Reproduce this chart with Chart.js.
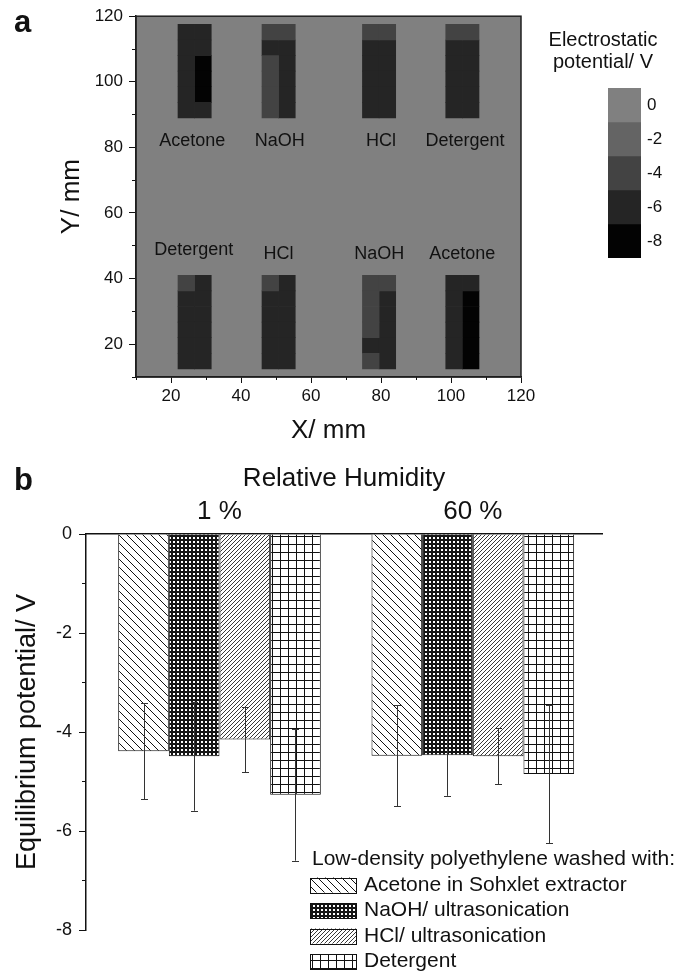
<!DOCTYPE html>
<html lang="en">
<head>
<meta charset="UTF-8">
<title>Electrostatic potential map and equilibrium potential</title>
<script src="https://cdn.jsdelivr.net/npm/chart.js"></script>
<style>
  body { margin: 0; background: #fff; }
  #page { position: relative; width: 683px; height: 975px; font-family: 'Liberation Sans', Arial, sans-serif; }
  canvas { position: absolute; }
  .tag { position: absolute; font-weight: bold; font-size: 31px; line-height: 31px; color: #111; }
</style>
</head>
<body>
<div id="page">
  <canvas id="map" width="545" height="450" style="left:0;top:0"></canvas>
  <canvas id="scale" width="160" height="275" style="left:523px;top:0"></canvas>
  <canvas id="bars" width="683" height="535" style="left:0;top:440px"></canvas>
  <div class="tag" style="left:14px;top:6px">a</div>
  <div class="tag" style="left:14px;top:464px">b</div>
</div>
<script>
Chart.defaults.font.family = "'Liberation Sans', Arial, sans-serif";
Chart.defaults.color = '#111';
Chart.defaults.animation = false;
Chart.defaults.plugins.legend.display = false;
Chart.defaults.plugins.tooltip.enabled = false;

// ---------- panel a: potential map of the sheet ----------
const levels = [0, -2, -4, -6, -8];
const levelColors = ['#808080', '#646464', '#434343', '#252525', '#030303'];
const cellSize = 4.75;                 // mm, measuring grid
const sampleLeft = [22, 46, 74.7, 98.5];
const topRowBase = 89;
const bottomRowBase = 12.5;
const topNames = ['Acetone', 'NaOH', 'HCl', 'Detergent'];
const bottomNames = ['Detergent', 'HCl', 'NaOH', 'Acetone'];
// potential per cell, rows from top to bottom, [left column, right column]
const topCells = [
  [[-6, -6], [-6, -6], [-6, -8], [-6, -8], [-6, -8], [-6, -6]],
  [[-4, -4], [-6, -6], [-4, -6], [-4, -6], [-4, -6], [-4, -6]],
  [[-4, -4], [-6, -6], [-6, -6], [-6, -6], [-6, -6], [-6, -6]],
  [[-4, -4], [-6, -6], [-6, -6], [-6, -6], [-6, -6], [-6, -6]]
];
const bottomCells = [
  [[-4, -6], [-6, -6], [-6, -6], [-6, -6], [-6, -6], [-6, -6]],
  [[-4, -6], [-6, -6], [-6, -6], [-6, -6], [-6, -6], [-6, -6]],
  [[-4, -4], [-4, -6], [-4, -6], [-4, -6], [-6, -6], [-4, -6]],
  [[-6, -6], [-6, -8], [-6, -8], [-6, -8], [-6, -8], [-6, -8]]
];
const topLabelX = [26.1, 51.1, 80, 104];
const topLabelY = [82, 82, 82, 82];
const bottomLabelX = [26.5, 50.7, 79.5, 103.2];
const bottomLabelY = [48.8, 47.6, 47.6, 47.6];
const mapTicks = [20, 40, 60, 80, 100, 120];
const mapMinorTicks = [10, 30, 50, 70, 90, 110];

function cellBars(level) {
  const pts = [];
  [[topCells, topRowBase], [bottomCells, bottomRowBase]].forEach(([row, base]) => {
    row.forEach((grid, s) => {
      grid.forEach((pair, r) => {
        pair.forEach((v, c) => {
          if (v !== level) return;
          const y0 = base + (grid.length - 1 - r) * cellSize;
          pts.push({ x: sampleLeft[s] + (c + 0.5) * cellSize, y: [y0, y0 + cellSize] });
        });
      });
    });
  });
  return pts;
}

const mapSets = levels.map((lv, i) => ({
  label: lv + ' V',
  data: cellBars(lv),
  backgroundColor: levelColors[i],
  borderWidth: 0,
  grouped: false,
  categoryPercentage: 1,
  barPercentage: 1
})).filter(d => d.data.length);

const mapDecor = {
  id: 'mapDecor',
  beforeDraw(chart) {
    const { ctx, chartArea: a } = chart;
    ctx.save();
    ctx.fillStyle = levelColors[0];
    ctx.fillRect(a.left, a.top, a.width, a.height);
    ctx.restore();
  },
  afterDatasetsDraw(chart) {
    const { ctx, scales: { x, y } } = chart;
    ctx.save();
    ctx.font = "18px 'Liberation Sans', Arial, sans-serif";
    ctx.fillStyle = '#111';
    ctx.textAlign = 'center';
    ctx.textBaseline = 'middle';
    topNames.forEach((n, i) => ctx.fillText(n, x.getPixelForValue(topLabelX[i]), y.getPixelForValue(topLabelY[i])));
    bottomNames.forEach((n, i) => ctx.fillText(n, x.getPixelForValue(bottomLabelX[i]), y.getPixelForValue(bottomLabelY[i])));
    ctx.restore();
  },
  afterDraw(chart) {
    const { ctx, chartArea: a } = chart;
    ctx.save();
    ctx.strokeStyle = '#222';
    ctx.lineWidth = 1.5;
    ctx.strokeRect(a.left, a.top, a.width, a.height);
    ctx.restore();
  }
};

new Chart(document.getElementById('map'), {
  type: 'bar',
  data: { datasets: mapSets },
  options: {
    responsive: false,
    layout: { padding: { top: 15, right: 24, bottom: 0, left: 0 } },
    scales: {
      x: {
        type: 'linear', position: 'bottom', min: 10, max: 120, offset: false,
        afterBuildTicks: a => { a.ticks = mapTicks.map(v => ({ value: v })); },
        afterFit: a => { a.height = 73; },
        ticks: { font: { size: 17 }, padding: 3.5, maxRotation: 0, autoSkip: false },
        grid: { drawOnChartArea: false, offset: false, tickLength: 6, color: '#111' },
        border: { color: '#111', width: 1.5 },
        title: { display: true, text: 'X/ mm', font: { size: 26 }, padding: { top: 0, bottom: 4 } }
      },
      xMinor: {
        axis: 'x', type: 'linear', position: 'bottom', weight: -1, min: 10, max: 120, offset: false,
        afterBuildTicks: a => { a.ticks = mapMinorTicks.map(v => ({ value: v })); },
        afterFit: a => { a.height = 0; },
        ticks: { display: false },
        grid: { drawOnChartArea: false, offset: false, tickLength: 3, color: '#111' },
        border: { display: false }
      },
      y: {
        type: 'linear', position: 'left', min: 10, max: 120,
        afterBuildTicks: a => { a.ticks = mapTicks.map(v => ({ value: v })); },
        afterFit: a => { a.width = 136; },
        ticks: { font: { size: 17 }, padding: 6 },
        grid: { drawOnChartArea: false, tickLength: 7, color: '#111' },
        border: { color: '#111', width: 1.5 },
        title: { display: true, text: 'Y/ mm', font: { size: 26 }, padding: { top: 56, bottom: 0 } }
      },
      yMinor: {
        axis: 'y', type: 'linear', position: 'left', weight: -1, min: 10, max: 120,
        afterBuildTicks: a => { a.ticks = mapMinorTicks.map(v => ({ value: v })); },
        afterFit: a => { a.width = 0; },
        ticks: { display: false },
        grid: { drawOnChartArea: false, tickLength: 4, color: '#111' },
        border: { display: false }
      }
    }
  },
  plugins: [mapDecor]
});

// colour scale of panel a
new Chart(document.getElementById('scale'), {
  type: 'bar',
  data: {
    labels: [''],
    datasets: levels.map((lv, i) => ({
      data: [[lv - 1, lv + 1]],
      backgroundColor: levelColors[i],
      borderWidth: 0,
      grouped: false,
      categoryPercentage: 1,
      barPercentage: 1,
      yAxisID: 'y'
    }))
  },
  options: {
    responsive: false,
    layout: { padding: { top: 0, right: 0, bottom: 17, left: 0 } },
    plugins: {
      title: {
        display: true, text: ['Electrostatic', 'potential/ V'], color: '#111',
        font: { size: 20, weight: 'normal', lineHeight: 1.1 }, padding: { top: 29, bottom: 15 }
      }
    },
    scales: {
      x: { display: false },
      y: {
        position: 'right', min: -9, max: 1,
        afterBuildTicks: a => { a.ticks = levels.map(v => ({ value: v })); },
        afterFit: a => { a.width = 42; },
        ticks: { font: { size: 17 }, padding: 6 },
        grid: { display: false, drawTicks: false },
        border: { display: false }
      },
      pad: {
        axis: 'y', position: 'left',
        afterFit: a => { a.width = 85; },
        ticks: { display: false },
        grid: { display: false, drawTicks: false },
        border: { display: false }
      }
    }
  }
});

// ---------- panel b: equilibrium potential ----------
const groupLabels = ['1 %', '60 %'];
const seriesNames = ['Acetone in Sohxlet extractor', 'NaOH/ ultrasonication', 'HCl/ ultrasonication', 'Detergent'];
const acetoneMean = [-4.39, -4.48];
const naohMean = [-4.49, -4.47];
const hclMean = [-4.15, -4.49];
const detergentMean = [-5.27, -4.85];
const acetoneErr = [0.97, 1.02];
const naohErr = [1.10, 0.82];
const hclErr = [0.66, 0.57];
const detergentErr = [1.33, 1.40];
const potentialTicks = [0, -2, -4, -6, -8];
const potentialMinor = [-1, -3, -5, -7];
const legendTitle = 'Low-density polyethylene washed with:';

function makePattern(size, paint) {
  const c = document.createElement('canvas');
  c.width = c.height = size;
  const g = c.getContext('2d');
  g.fillStyle = '#fff';
  g.fillRect(0, 0, size, size);
  paint(g, size);
  return g.createPattern(c, 'repeat');
}
function lines(g, segs) {
  g.beginPath();
  segs.forEach(s => { g.moveTo(s[0], s[1]); g.lineTo(s[2], s[3]); });
  g.stroke();
}
const backHatch = makePattern(8, (g, n) => {
  g.strokeStyle = '#111'; g.lineWidth = 1;
  lines(g, [[-2, -2, n + 2, n + 2], [-2, n - 2, 2, n + 2], [n - 2, -2, n + 2, 2]]);
});
const dotMesh = makePattern(4, (g) => {
  g.fillStyle = '#151515'; g.fillRect(0, 0, 4, 4);
  g.fillStyle = '#fff'; g.fillRect(1, 1, 2, 2);
});
const fineHatch = makePattern(4, (g, n) => {
  g.strokeStyle = '#222'; g.lineWidth = 0.9;
  lines(g, [[-1, n + 1, n + 1, -1], [-1, 1, 1, -1], [n - 1, n + 1, n + 1, n - 1]]);
});
const squareGrid = makePattern(8, (g, n) => {
  g.strokeStyle = '#111'; g.lineWidth = 1;
  lines(g, [[0.5, 0, 0.5, n], [0, 0.5, n, 0.5]]);
});

const means = [acetoneMean, naohMean, hclMean, detergentMean];
const errs = [acetoneErr, naohErr, hclErr, detergentErr];
const fills = [backHatch, dotMesh, fineHatch, squareGrid];

const errorBars = {
  id: 'errorBars',
  afterDatasetsDraw(chart) {
    const { ctx } = chart;
    const y = chart.scales.y;
    ctx.save();
    ctx.strokeStyle = '#333';
    ctx.lineWidth = 1;
    chart.data.datasets.forEach((ds, i) => {
      chart.getDatasetMeta(i).data.forEach((bar, j) => {
        const v = ds.data[j].y, e = errs[i][j];
        const hi = y.getPixelForValue(v + e), lo = y.getPixelForValue(v - e);
        const x = Math.round(bar.x) + 0.5;
        ctx.beginPath();
        ctx.moveTo(x, hi); ctx.lineTo(x, lo);
        ctx.moveTo(x - 3.5, Math.round(hi) + 0.5); ctx.lineTo(x + 3.5, Math.round(hi) + 0.5);
        ctx.moveTo(x - 3.5, Math.round(lo) + 0.5); ctx.lineTo(x + 3.5, Math.round(lo) + 0.5);
        ctx.stroke();
      });
    });
    ctx.restore();
  }
};

const washLegend = {
  id: 'washLegend',
  afterDraw(chart) {
    const { ctx } = chart;
    ctx.save();
    ctx.font = "21px 'Liberation Sans', Arial, sans-serif";
    ctx.textBaseline = 'middle';
    ctx.fillStyle = '#111';
    ctx.fillText(legendTitle, 312, 419);
    chart.data.datasets.forEach((ds, i) => {
      const yc = 445 + i * 25.5;
      ctx.fillStyle = ds.backgroundColor;
      ctx.fillRect(310, yc - 7.5, 46, 15);
      ctx.strokeStyle = '#111';
      ctx.lineWidth = 1;
      ctx.strokeRect(310.5, Math.round(yc - 7.5) + 0.5, 46, 15);
      ctx.fillStyle = '#111';
      ctx.fillText(ds.label, 364, yc);
    });
    ctx.restore();
  }
};

new Chart(document.getElementById('bars'), {
  type: 'bar',
  data: {
    datasets: seriesNames.map((name, i) => ({
      label: name,
      data: means[i].map((v, j) => ({ x: j, y: v })),
      backgroundColor: fills[i],
      borderColor: '#111',
      borderWidth: 1,
      categoryPercentage: 0.8,
      barPercentage: 1
    }))
  },
  options: {
    responsive: false,
    layout: { padding: { top: 0, right: 81, bottom: 45, left: 0 } },
    scales: {
      x: {
        type: 'linear', position: 'top', min: -0.527, max: 1.51, offset: false,
        afterBuildTicks: a => { a.ticks = groupLabels.map((g, i) => ({ value: i })); },
        afterFit: a => { a.height = 94; },
        ticks: { font: { size: 26 }, padding: 7, callback: v => groupLabels[v] },
        grid: { display: false, drawTicks: false, offset: false },
        border: { color: '#111', width: 1.5 },
        title: { display: true, text: 'Relative Humidity', font: { size: 26 }, padding: { top: 23, bottom: 0 } }
      },
      y: {
        type: 'linear', position: 'left', min: -8, max: 0,
        afterBuildTicks: a => { a.ticks = potentialTicks.map(v => ({ value: v })); },
        afterFit: a => { a.width = 86; },
        ticks: { font: { size: 18 }, padding: 7 },
        grid: { drawOnChartArea: false, tickLength: 7, color: '#111' },
        border: { color: '#111', width: 1.5 },
        title: { display: true, text: 'Equilibrium potential/ V', font: { size: 27 }, padding: { top: 11, bottom: 0 } }
      },
      yMinor: {
        axis: 'y', type: 'linear', position: 'left', weight: -1, min: -8, max: 0,
        afterBuildTicks: a => { a.ticks = potentialMinor.map(v => ({ value: v })); },
        afterFit: a => { a.width = 0; },
        ticks: { display: false },
        grid: { drawOnChartArea: false, tickLength: 4, color: '#111' },
        border: { display: false }
      }
    }
  },
  plugins: [errorBars, washLegend]
});
</script>
</body>
</html>
